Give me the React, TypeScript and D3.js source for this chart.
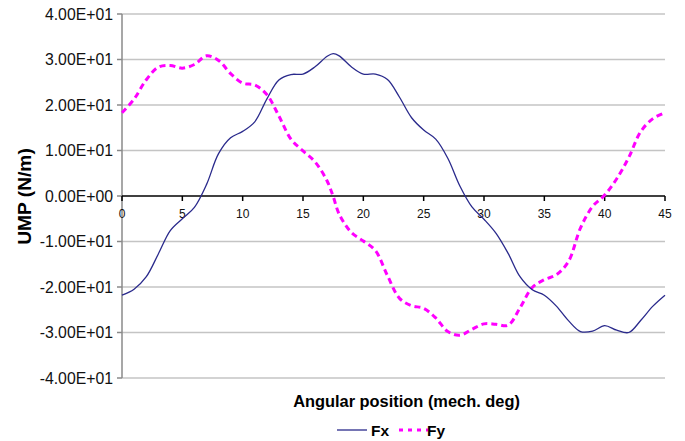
import React from "react";
import * as d3 from "d3";

// Angular position (mechanical degrees)
const angles = [
  0, 1, 2, 3, 4, 5, 6, 7, 8, 9, 10, 11, 12, 13, 14, 15, 16, 17, 17.5, 18, 19, 20, 21, 22,
  23, 24, 25, 26, 27, 28, 29, 30, 31, 32, 33, 34, 35, 36, 37, 38, 39, 40, 41, 42, 43, 44, 45,
];

// Unbalanced magnetic pull components (N/m)
const fx = [
  -21.8, -20.5, -17.8, -12.8, -7.6, -5.0, -2.5, 2.5, 9.3, 12.8, 14.2, 16.3, 21.3, 25.5, 26.7,
  26.8, 28.4, 30.7, 31.3, 30.8, 28.4, 26.8, 26.8, 25.6, 21.7, 17.2, 14.5, 12.5, 8.3, 2.2, -2.4,
  -5.1, -8.2, -12.6, -17.8, -20.6, -21.8, -24.2, -27.4, -29.8, -29.7, -28.5, -29.5, -30.0,
  -27.3, -24.2, -21.8,
];

const fy = [
  18.3, 21.3, 25.5, 28.3, 28.7, 28.1, 28.9, 30.8, 29.8, 26.9, 24.8, 24.4, 22.3, 17.6, 12.5,
  9.9, 7.5, 3.3, -0.1, -4.0, -8.0, -9.9, -12.0, -17.5, -22.5, -24.1, -24.7, -26.8, -29.8,
  -30.6, -29.3, -28.1, -28.2, -28.4, -24.5, -20.1, -18.4, -17.3, -14.4, -7.0, -2.3, 0.2, 3.8,
  8.5, 14.2, 17.0, 18.3,
];

const xTicks = [0, 5, 10, 15, 20, 25, 30, 35, 40, 45];
const yTicks = [40, 30, 20, 10, 0, -10, -20, -30, -40];
const yTickLabels = [
  "4.00E+01", "3.00E+01", "2.00E+01", "1.00E+01", "0.00E+00",
  "-1.00E+01", "-2.00E+01", "-3.00E+01", "-4.00E+01",
];

const W = 685;
const H = 441;
const left = 122;
const right = 665;
const top = 14;
const bottom = 378;

const FONT = "'Liberation Sans', Arial, sans-serif";

export default function App() {
  const x = d3.scaleLinear().domain([0, 45]).range([left, right]);
  const y = d3.scaleLinear().domain([-40, 40]).range([bottom, top]);

  const line = d3
    .line<number>()
    .x((_, i) => x(angles[i]))
    .y((d) => y(d))
    .curve(d3.curveCatmullRom.alpha(0.5));

  return (
    <svg
      width={W}
      height={H}
      style={{ position: "absolute", left: 0, top: 0, background: "#fff" }}
      fontFamily={FONT}
    >
      {/* horizontal gridlines */}
      {yTicks.map((t) =>
        t === 0 ? null : (
          <line key={t} x1={left} x2={right} y1={y(t)} y2={y(t)} stroke="#c4c4c4" strokeWidth={1.5} />
        )
      )}
      {/* value axis */}
      <line x1={left} x2={left} y1={top} y2={bottom} stroke="#8a8a8a" strokeWidth={1.5} />
      {yTicks.map((t, i) => (
        <g key={t}>
          <line x1={left - 5} x2={left} y1={y(t)} y2={y(t)} stroke="#8a8a8a" strokeWidth={1.5} />
          <text
            x={113}
            y={y(t)}
            dy="0.36em"
            textAnchor="end"
            fontSize={15.8}
            fill="#111"
          >
            {yTickLabels[i]}
          </text>
        </g>
      ))}
      {/* category axis at zero */}
      <line x1={left} x2={right} y1={y(0)} y2={y(0)} stroke="#000" strokeWidth={1.5} />
      {xTicks.map((t) => (
        <g key={t}>
          <line x1={x(t)} x2={x(t)} y1={y(0)} y2={y(0) + 5} stroke="#000" strokeWidth={1.5} />
          <text x={x(t)} y={218} textAnchor="middle" fontSize={12} fill="#111">
            {t}
          </text>
        </g>
      ))}

      {/* series */}
      <path d={line(fy) ?? ""} fill="none" stroke="#ff00ff" strokeWidth={3} strokeDasharray="6,4" />
      <path d={line(fx) ?? ""} fill="none" stroke="#2a2a8c" strokeWidth={1.3} />

      {/* axis titles */}
      <text
        transform={`translate(31,${196.5}) rotate(-90)`}
        textAnchor="middle"
        fontSize={19.2}
        fontWeight="bold"
        fill="#000"
      >
        UMP (N/m)
      </text>
      <text x={406.5} y={407} textAnchor="middle" fontSize={16.4} fontWeight="bold" fill="#000">
        Angular position (mech. deg)
      </text>

      {/* legend */}
      <line x1={337} x2={367} y1={430} y2={430} stroke="#2a2a8c" strokeWidth={1.3} />
      <text x={371} y={436} fontSize={15.5} fontWeight="bold" fill="#000">
        Fx
      </text>
      <line x1={399} x2={428} y1={430} y2={430} stroke="#ff00ff" strokeWidth={3} strokeDasharray="4,5" />
      <text x={427} y={436} fontSize={15.5} fontWeight="bold" fill="#000">
        Fy
      </text>
    </svg>
  );
}
